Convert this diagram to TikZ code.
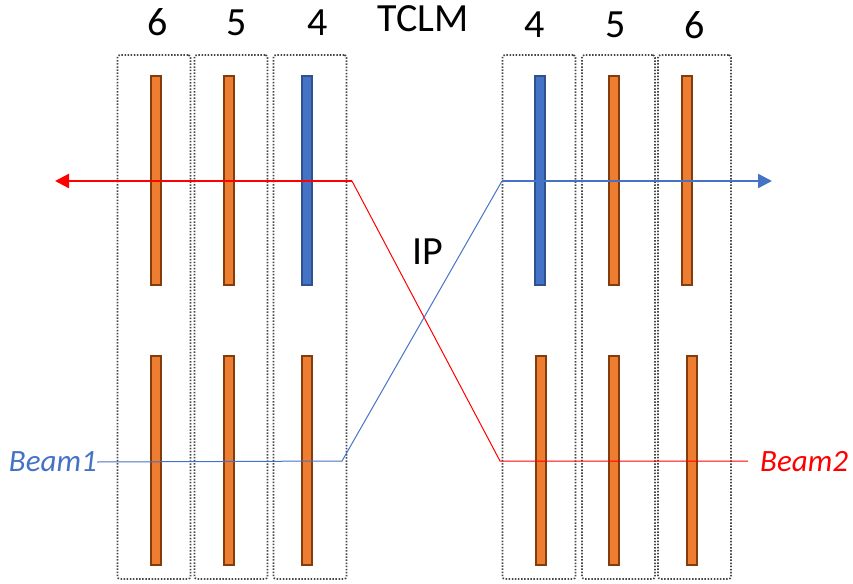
\documentclass[tikz,border=0pt]{standalone}
\usepackage{fontspec}
\setmainfont{Carlito}
\usetikzlibrary{arrows.meta}
\definecolor{tcorange}{HTML}{ED7D31}
\definecolor{tcorangeedge}{HTML}{843C0C}
\definecolor{tcblue}{HTML}{4472C4}
\definecolor{tcblueedge}{HTML}{2F528F}
\definecolor{beamred}{HTML}{FF0000}
\definecolor{cellgray}{HTML}{474747}

\begin{document}
\begin{tikzpicture}[x=1pt,y=-1pt,
  cell/.style={draw=cellgray, line width=1.7pt, dash pattern=on 1.5pt off 1.6pt,
    rounded corners=2.5pt, minimum width=73pt, minimum height=524pt, inner sep=0pt},
  jaw/.style={draw=tcorangeedge, fill=tcorange, line width=1.5pt,
    minimum width=10pt, minimum height=209pt, inner sep=0pt},
  bluejaw/.style={jaw, draw=tcblueedge, fill=tcblue},
  label/.style={font=\fontsize{40}{46}\selectfont, inner sep=0pt},
  beamlabel/.style={font=\fontsize{31}{36}\selectfont\itshape, inner sep=0pt},
  thickbeam/.style={line width=2.4pt, -{Triangle[length=14pt,width=14pt]}},
  thinbeam/.style={line width=1pt}]
\useasboundingbox (0,0) rectangle (853,583);

% collimator cells, left side (6,5,4) and right side (4,5,6)
\node[cell] (cL6) at (154,317) {};
\node[cell] (cL5) at (231,317) {};
\node[cell] (cL4) at (310,317) {};
\node[cell] (cR4) at (539,317) {};
\node[cell] (cR5) at (618.5,317) {};
\node[cell] (cR6) at (694.5,317) {};

% jaws: upper and lower in each cell
\node[jaw]      (jL6u) at (156,180.5) {};
\node[jaw]      (jL5u) at (229,180.5) {};
\node[bluejaw]  (jL4u) at (307,180.5) {};
\node[jaw]      (jL6d) at (156,460.5) {};
\node[jaw]      (jL5d) at (229,460.5) {};
\node[jaw]      (jL4d) at (307,460.5) {};
\node[bluejaw]  (jR4u) at (540,180.5) {};
\node[jaw]      (jR5u) at (614,180.5) {};
\node[jaw]      (jR6u) at (687,180.5) {};
\node[jaw]      (jR4d) at (541,460.5) {};
\node[jaw]      (jR5d) at (614,460.5) {};
\node[jaw]      (jR6d) at (692,460.5) {};

% cell numbers and titles
\node[label] (nL6) at (157.5,22.5) {6};
\node[label] (nL5) at (237,22.5) {5};
\node[label] (nL4) at (318,22.5) {4};
\node[label] (title) at (423,18.5) {TCLM};
\node[label] (nR4) at (535,25) {4};
\node[label] (nR5) at (616,25) {5};
\node[label] (nR6) at (695,25) {6};
\node[label] (ip) at (428,251.5) {IP};

% beam names
\node[beamlabel, text=tcblue, anchor=east] (beam1) at (97,462) {Beam1};
\node[beamlabel, text=beamred, anchor=west] (beam2) at (760,462) {Beam2};

% beam trajectories
\coordinate (r1) at (352,181);
\coordinate (r2) at (500,461);
\coordinate (r3) at (748,461);
\coordinate (rtip) at (55,181);
\coordinate (b1) at (342,461);
\coordinate (b2) at (502,181);
\coordinate (btip) at (772,181);

\draw[thinbeam, beamred] (r3) -- (r2) -- (r1);
\draw[thickbeam, beamred] (r1) -- (rtip);
\draw[thinbeam, tcblue] (beam1.east) -- (b1) -- (b2);
\draw[thickbeam, tcblue] (b2) -- (btip);
\end{tikzpicture}
\end{document}
